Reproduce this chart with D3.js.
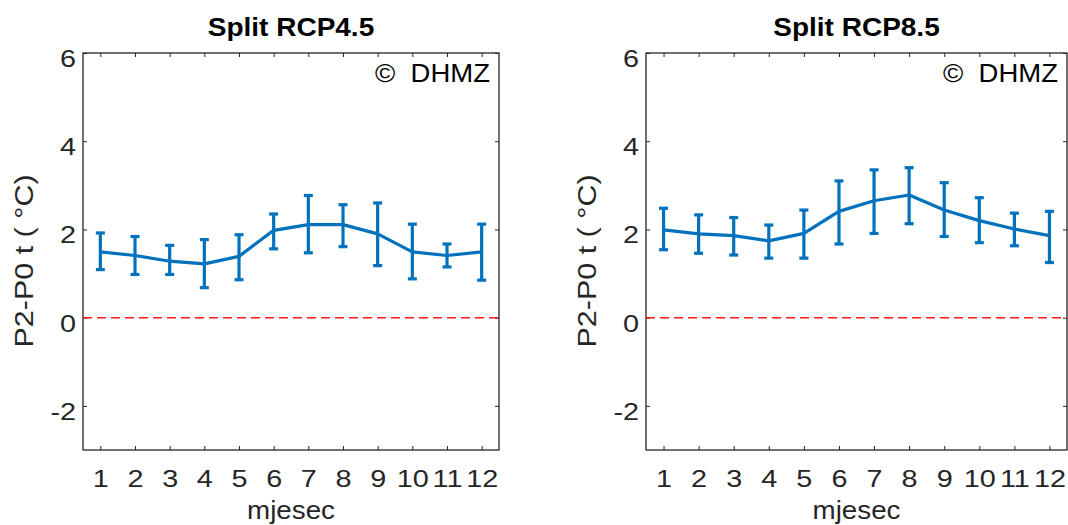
<!DOCTYPE html>
<html><head><meta charset="utf-8">
<script src="https://cdn.jsdelivr.net/npm/d3@7"></script>
<style>
html,body{margin:0;padding:0;background:#fff;}
svg{display:block;font-family:"Liberation Sans",Arial,Helvetica,sans-serif;}
</style></head>
<body><svg id="chart" width="1068" height="525"></svg>
<script>
const months = [1,2,3,4,5,6,7,8,9,10,11,12];
const yTicks = [-2,0,2,4,6];
const titles = ["Split RCP4.5", "Split RCP8.5"];
const xLabel = "mjesec";
const yLabel = "P2-P0 t ( \u00B0C)";
const credit = "\u00A9 \u00A0DHMZ";

const rcp45Mean  = [1.49,1.41,1.28,1.22,1.39,1.98,2.11,2.11,1.90,1.49,1.41,1.49];
const rcp45Upper = [1.92,1.84,1.64,1.77,1.88,2.35,2.77,2.56,2.60,2.12,1.67,2.12];
const rcp45Lower = [1.09,0.98,0.98,0.68,0.86,1.56,1.47,1.61,1.18,0.88,1.15,0.85];

const rcp85Mean  = [1.99,1.90,1.86,1.74,1.91,2.41,2.65,2.78,2.44,2.20,2.01,1.86];
const rcp85Upper = [2.48,2.33,2.27,2.10,2.44,3.10,3.35,3.40,3.06,2.72,2.37,2.41];
const rcp85Lower = [1.54,1.46,1.42,1.35,1.35,1.67,1.91,2.13,1.84,1.70,1.63,1.25];

(function () {
const panels = [
  {mean: rcp45Mean, upper: rcp45Upper, lower: rcp45Lower, left: 83, right: 499, title: titles[0]},
  {mean: rcp85Mean, upper: rcp85Upper, lower: rcp85Lower, left: 646, right: 1067, title: titles[1]}
];
const plotTop = 53, plotBottom = 450;
const axisColor = "#262626";
const blue = "#0072BD";
const fam = "Liberation Sans, Arial, sans-serif";

const svg = d3.select("#chart");

panels.forEach(p => {
  const x = d3.scaleLinear().domain([0.5, 12.5]).range([p.left, p.right]);
  const y = d3.scaleLinear().domain([-3, 6]).range([plotBottom, plotTop]);
  const g = svg.append("g");

  g.append("rect").attr("x", p.left).attr("y", plotTop)
    .attr("width", p.right - p.left).attr("height", plotBottom - plotTop)
    .attr("fill", "none").attr("stroke", axisColor).attr("stroke-width", 1.3);

  const fmt = d => String(d);
  const xb = g.append("g").attr("transform", `translate(0,${plotBottom})`)
    .call(d3.axisBottom(x).tickValues(months).tickFormat(fmt).tickSizeInner(-4).tickSizeOuter(0));
  const xt = g.append("g").attr("transform", `translate(0,${plotTop})`)
    .call(d3.axisTop(x).tickValues(months).tickFormat("").tickSizeInner(-4).tickSizeOuter(0));
  const yl = g.append("g").attr("transform", `translate(${p.left},0)`)
    .call(d3.axisLeft(y).tickValues(yTicks).tickFormat(fmt).tickSizeInner(-4).tickSizeOuter(0));
  const yr = g.append("g").attr("transform", `translate(${p.right},0)`)
    .call(d3.axisRight(y).tickValues(yTicks).tickFormat("").tickSizeInner(-4).tickSizeOuter(0));
  [xb, xt, yl, yr].forEach(a => {
    a.select(".domain").remove();
    a.selectAll(".tick line").attr("stroke", axisColor).attr("stroke-width", 1);
  });
  xb.selectAll(".tick text").attr("x", 0).attr("y", 0).attr("dy", 0)
    .attr("transform", "translate(0,37) scale(1.2,1)")
    .attr("fill", axisColor).attr("font-size", 24).attr("font-family", fam);
  yl.selectAll(".tick text").attr("x", 0).attr("y", 0).attr("dy", 0)
    .attr("transform", "translate(-7,13.5) scale(1.2,1)")
    .attr("fill", axisColor).attr("font-size", 24).attr("font-family", fam);

  g.append("line").attr("x1", p.left).attr("x2", p.right)
    .attr("y1", y(0)).attr("y2", y(0))
    .attr("stroke", "#FF1A1A").attr("stroke-width", 1.5).attr("stroke-dasharray", "9,5");

  const line = d3.line().x((d, i) => x(months[i])).y(d => y(d));
  g.append("path").datum(p.mean).attr("d", line)
    .attr("fill", "none").attr("stroke", blue).attr("stroke-width", 3.2).attr("stroke-linejoin", "round");

  const eb = g.append("g").attr("stroke", blue).attr("stroke-width", 3.2).attr("fill", "none");
  months.forEach((m, i) => {
    eb.append("line").attr("x1", x(m)).attr("x2", x(m)).attr("y1", y(p.upper[i])).attr("y2", y(p.lower[i]));
    eb.append("line").attr("x1", x(m) - 4.5).attr("x2", x(m) + 4.5).attr("y1", y(p.upper[i])).attr("y2", y(p.upper[i]));
    eb.append("line").attr("x1", x(m) - 4.5).attr("x2", x(m) + 4.5).attr("y1", y(p.lower[i])).attr("y2", y(p.lower[i]));
  });

  const cx = (p.left + p.right) / 2;
  g.append("text").attr("transform", `translate(${cx},36) scale(1.12,1)`).attr("text-anchor", "middle")
    .attr("font-size", 25).attr("font-weight", "bold").attr("fill", "#000").text(p.title);
  g.append("text").attr("transform", `translate(${cx},519) scale(1.11,1)`).attr("text-anchor", "middle")
    .attr("font-size", 25).attr("fill", axisColor).text(xLabel);
  g.append("text").attr("transform", `translate(${p.left - 50},261) rotate(-90) scale(1.22,1)`)
    .attr("text-anchor", "middle").attr("font-size", 25).attr("fill", axisColor)
    .style("white-space", "pre").text(yLabel);
  g.append("text").attr("transform", `translate(${p.right - 9},82) scale(1.1,1)`).attr("text-anchor", "end")
    .attr("font-size", 25).attr("fill", "#000").style("white-space", "pre").text(credit);
});
})();
</script>
</body></html>
